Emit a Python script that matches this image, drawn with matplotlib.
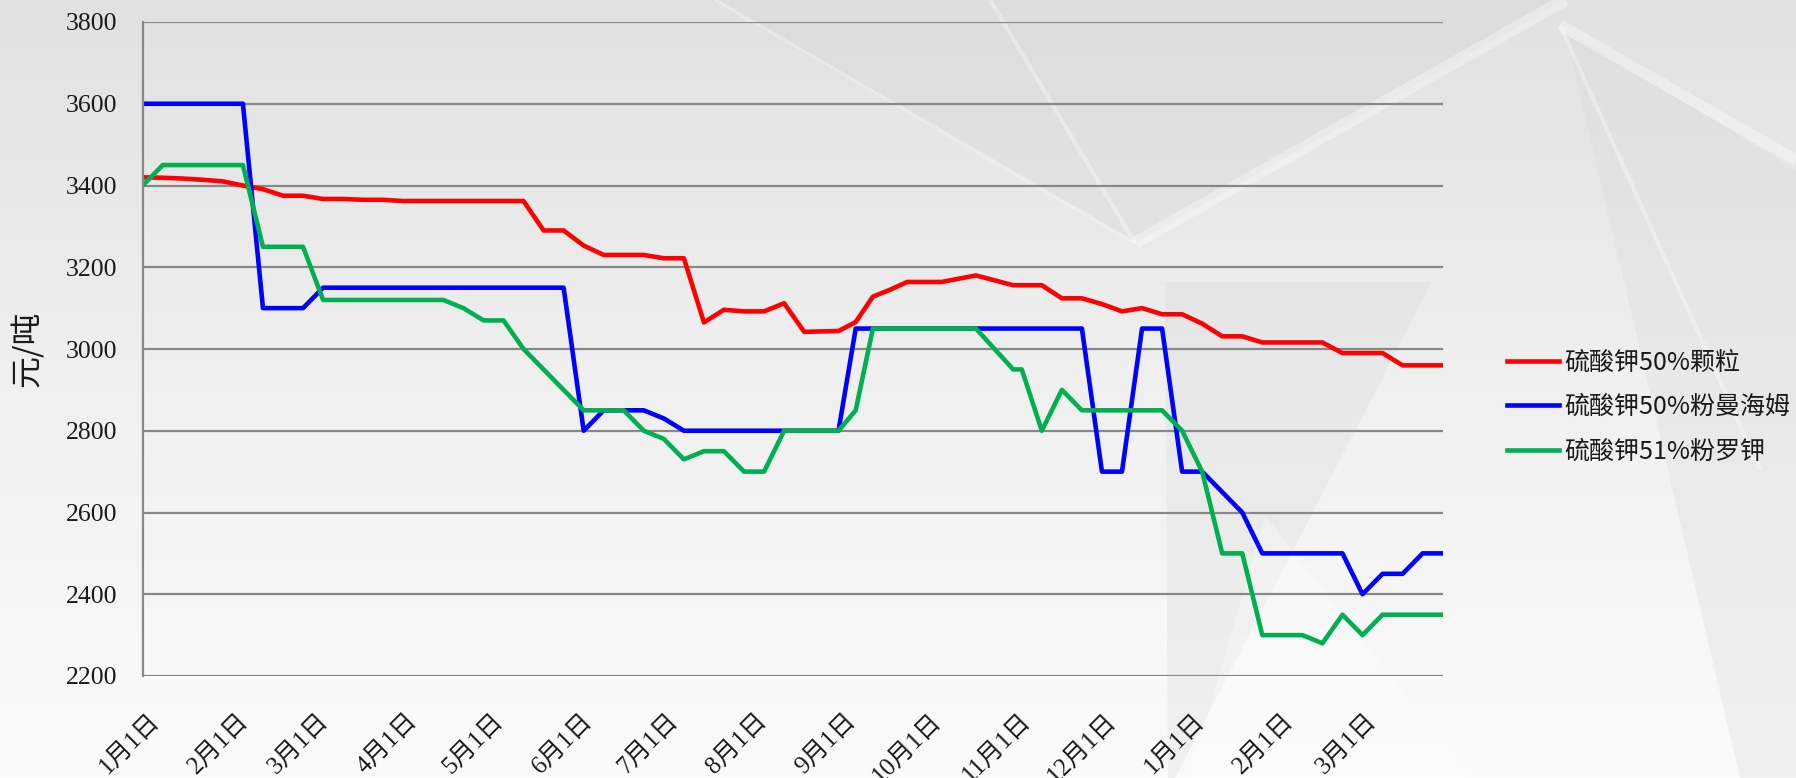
import numpy as np
import pandas as pd
import matplotlib
matplotlib.use("Agg")
import matplotlib.pyplot as plt
import matplotlib.dates as mdates
import matplotlib.transforms as mtransforms
from matplotlib.colors import LinearSegmentedColormap
from matplotlib.patches import Polygon

plt.rcParams['font.family'] = ['Noto Sans CJK SC', 'DejaVu Sans']

# days after 2015-01-01 for each price point
start = "2015-01-01"
days = [0, 7, 14, 21, 28, 35, 42, 49, 56, 63, 70, 77, 84, 91, 98, 105, 112, 119,
        126, 133, 140, 147, 154, 161, 168, 175, 182, 189, 196, 203, 210, 217, 224, 231,
        243, 249, 255, 261, 267, 279, 291, 304, 307, 314,
        321, 328, 335, 342, 349, 356, 363, 370, 377, 384, 391, 398, 405, 412, 419,
        426, 433, 440, 447, 454]

granular_50 = [3420, 3419, 3417, 3414, 3410, 3400, 3391, 3375, 3375, 3367,
               3367, 3365, 3365, 3362, 3362, 3362, 3362, 3362, 3362, 3362,
               3290, 3290, 3253, 3230, 3230, 3230, 3222, 3222, 3065, 3096,
               3092, 3092, 3112, 3042,
               3044, 3066, 3128, 3145, 3164, 3164, 3180, 3156, 3156, 3156,
               3124, 3124, 3110, 3092, 3100, 3085, 3085, 3062, 3031, 3031,
               3016, 3016, 3016, 3016, 2990, 2990, 2990, 2960, 2960, 2960]

mannheim_50 = [3600, 3600, 3600, 3600, 3600, 3600, 3100, 3100, 3100, 3150,
               3150, 3150, 3150, 3150, 3150, 3150, 3150, 3150, 3150, 3150,
               3150, 3150, 2800, 2850, 2850, 2850, 2830, 2800, 2800, 2800,
               2800, 2800, 2800, 2800,
               2800, 3050, 3050, 3050, 3050, 3050, 3050, 3050, 3050, 3050,
               3050, 3050, 2700, 2700, 3050, 3050, 2700, 2700, 2650, 2600,
               2500, 2500, 2500, 2500, 2500, 2400, 2450, 2450, 2500, 2500]

powder_51 = [3400, 3450, 3450, 3450, 3450, 3450, 3250, 3250, 3250, 3120,
             3120, 3120, 3120, 3120, 3120, 3120, 3100, 3070, 3070, 3000,
             2950, 2900, 2850, 2850, 2850, 2800, 2780, 2730, 2750, 2750,
             2700, 2700, 2800, 2800,
             2800, 2850, 3050, 3050, 3050, 3050, 3050, 2950, 2950, 2800,
             2900, 2850, 2850, 2850, 2850, 2850, 2800, 2700, 2500, 2500,
             2300, 2300, 2300, 2280, 2350, 2300, 2350, 2350, 2350, 2350]

series_names = ["硫酸钾50%颗粒", "硫酸钾50%粉曼海姆", "硫酸钾51%粉罗钾"]
series_colors = ["#ff0000", "#0000ff", "#00b050"]
yticks = [2200, 2400, 2600, 2800, 3000, 3200, 3400, 3600, 3800]

dates = pd.Timestamp(start) + pd.to_timedelta(days, unit="D")

W, H = 1796, 778
fig = plt.figure(figsize=(W / 100, H / 100), dpi=100)

# background: soft gray gradient with faint geometric shapes
bg = fig.add_axes([0, 0, 1, 1], zorder=-5)
cmap = LinearSegmentedColormap.from_list("bg", ["#e1e1e1", "#f0f0f0", "#fbfbfb"])
bg.imshow(np.linspace(0, 1, 256)[:, None], cmap=cmap, aspect="auto",
          extent=[0, W, H, 0])
shapes = [
    ([(710, 0), (1135, 243), (1565, 0)], "#d4d4d4", 0.30),
    ([(1165, 282), (1432, 282), (1175, 778), (1168, 778)], "#d8d8d8", 0.30),
    ([(1565, 30), (1796, 170), (1796, 778), (1740, 778)], "#d6d6d6", 0.28),
    ([(1265, 515), (1470, 778), (1190, 778)], "#ffffff", 0.30),
]
for pts, col, a in shapes:
    bg.add_patch(Polygon(pts, closed=True, facecolor=col, alpha=a, edgecolor="none"))
for (x0, y0), (x1, y1), lw in [((715, 0), (1135, 243), 2.5), ((990, 0), (1135, 243), 3),
                               ((1135, 243), (1565, 0), 9), ((1560, 25), (1796, 160), 8),
                               ((1560, 25), (1760, 470), 3)]:
    bg.plot([x0, x1], [y0, y1], color="white", lw=lw, alpha=0.35, solid_capstyle="butt")
bg.set_xlim(0, W)
bg.set_ylim(H, 0)
bg.axis("off")

ax = fig.add_axes([142.7 / W, 1 - 676 / H, 1300 / W, 654 / H])
ax.patch.set_alpha(0)

for vals, name, col in zip([granular_50, mannheim_50, powder_51], series_names, series_colors):
    ax.plot(dates, vals, color=col, lw=3.3, label=name, solid_joinstyle="round")

ax.set_xlim(dates[0], dates[-1])
ax.set_ylim(2200, 3800)
ax.set_yticks(yticks)
ax.yaxis.grid(True, color="#888888", lw=1.6)
ax.set_axisbelow(True)
for s in ["top", "right", "bottom"]:
    ax.spines[s].set_visible(False)
ax.spines["left"].set_color("#888888")
ax.spines["left"].set_linewidth(1.6)

ax.tick_params(axis="y", length=0, pad=18, labelsize=18.5, labelcolor="#1a1a1a")
for lab in ax.get_yticklabels():
    lab.set_family("Liberation Serif")

ax.xaxis.set_major_locator(mdates.MonthLocator())
ax.xaxis.set_major_formatter(plt.FuncFormatter(
    lambda v, pos: "{}月{}日".format(mdates.num2date(v).month, mdates.num2date(v).day)))
ax.tick_params(axis="x", length=0, pad=24, labelsize=18, labelcolor="#1a1a1a")
shift = mtransforms.ScaledTranslation(6 / 100, 0, fig.dpi_scale_trans)
for lab in ax.get_xticklabels():
    lab.set_rotation(45)
    lab.set_ha("right")
    lab.set_va("top")
    lab.set_rotation_mode("anchor")
    lab.set_family(["Liberation Serif", "Noto Sans CJK SC"])
    lab.set_transform(lab.get_transform() + shift)

ax.set_ylabel("元/吨", fontsize=23, color="#1a1a1a")
ax.yaxis.set_label_coords(-0.076, 0.5)

ax.legend(loc="center left", bbox_to_anchor=(1494 / W, 1 - 407 / H),
          bbox_transform=fig.transFigure, frameon=False, fontsize=18,
          handlelength=2.1, handletextpad=0.2, labelspacing=0.75,
          borderpad=0, labelcolor="#1a1a1a")

fig.savefig("out.png", dpi=100)
